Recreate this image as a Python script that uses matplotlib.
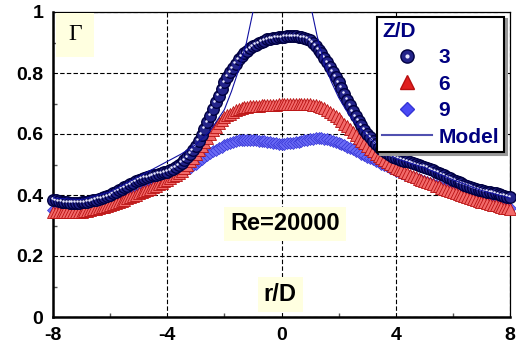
import matplotlib
matplotlib.use("Agg")
import matplotlib.pyplot as plt
import matplotlib.transforms as mtransforms
from matplotlib.legend_handler import HandlerTuple
import numpy as np

plt.rcParams['font.family'] = ['Liberation Sans', 'DejaVu Sans']
plt.rcParams['axes.unicode_minus'] = False

# r/D positions of the measured points (step 0.1)
r = np.round(np.arange(-80, 81) / 10.0, 1)

# Z/D = 3
g3 = [0.384, 0.382, 0.380, 0.378, 0.377, 0.376, 0.375, 0.375, 0.375, 0.375, 0.376,
      0.377, 0.378, 0.380, 0.382, 0.384, 0.387, 0.390, 0.393, 0.396, 0.400,
      0.405, 0.410, 0.415, 0.420, 0.425, 0.430, 0.435, 0.440, 0.445, 0.450,
      0.453, 0.456, 0.459, 0.462, 0.465, 0.467, 0.469, 0.471, 0.474, 0.477,
      0.481, 0.486, 0.491, 0.498, 0.505, 0.514, 0.524, 0.535, 0.547, 0.560,
      0.578, 0.597, 0.617, 0.638, 0.660, 0.682, 0.704, 0.726, 0.748, 0.770,
      0.787, 0.802, 0.816, 0.831, 0.845, 0.855, 0.864, 0.873, 0.881, 0.888,
      0.893, 0.898, 0.902, 0.906, 0.910, 0.912, 0.914, 0.916, 0.917, 0.918,
      0.919, 0.920, 0.920, 0.920, 0.920, 0.919, 0.917, 0.915, 0.912, 0.908,
      0.899, 0.889, 0.877, 0.864, 0.850, 0.835, 0.820, 0.804, 0.787, 0.770,
      0.751, 0.732, 0.713, 0.694, 0.675, 0.659, 0.643, 0.628, 0.614, 0.600,
      0.589, 0.578, 0.568, 0.559, 0.550, 0.543, 0.537, 0.531, 0.526, 0.522,
      0.519, 0.516, 0.513, 0.510, 0.507, 0.504, 0.501, 0.498, 0.495, 0.492,
      0.489, 0.485, 0.481, 0.477, 0.473, 0.468, 0.464, 0.459, 0.455, 0.450,
      0.446, 0.442, 0.438, 0.434, 0.430, 0.427, 0.424, 0.421, 0.418, 0.415,
      0.413, 0.411, 0.409, 0.407, 0.405, 0.403, 0.400, 0.398, 0.395, 0.392]

# Z/D = 6
g6 = [0.345, 0.344, 0.344, 0.343, 0.343, 0.343, 0.343, 0.343, 0.344, 0.344, 0.345,
      0.347, 0.349, 0.351, 0.353, 0.355, 0.357, 0.360, 0.362, 0.365, 0.367,
      0.371, 0.374, 0.378, 0.381, 0.385, 0.389, 0.393, 0.397, 0.401, 0.405,
      0.409, 0.413, 0.417, 0.421, 0.425, 0.430, 0.435, 0.440, 0.445, 0.450,
      0.455, 0.461, 0.467, 0.473, 0.480, 0.489, 0.499, 0.510, 0.522, 0.535,
      0.549, 0.562, 0.575, 0.588, 0.600, 0.612, 0.624, 0.635, 0.645, 0.655,
      0.661, 0.667, 0.673, 0.678, 0.683, 0.685, 0.687, 0.689, 0.691, 0.692,
      0.693, 0.693, 0.694, 0.694, 0.695, 0.695, 0.696, 0.696, 0.697, 0.697,
      0.698, 0.698, 0.699, 0.699, 0.700, 0.700, 0.700, 0.699, 0.699, 0.698,
      0.696, 0.694, 0.691, 0.688, 0.685, 0.679, 0.673, 0.666, 0.659, 0.652,
      0.643, 0.634, 0.625, 0.616, 0.607, 0.597, 0.588, 0.578, 0.569, 0.560,
      0.552, 0.544, 0.536, 0.528, 0.520, 0.514, 0.508, 0.502, 0.496, 0.490,
      0.485, 0.481, 0.476, 0.472, 0.467, 0.463, 0.458, 0.454, 0.449, 0.445,
      0.442, 0.438, 0.435, 0.431, 0.428, 0.424, 0.421, 0.417, 0.414, 0.410,
      0.407, 0.403, 0.400, 0.396, 0.393, 0.390, 0.387, 0.384, 0.381, 0.378,
      0.376, 0.373, 0.371, 0.368, 0.366, 0.364, 0.362, 0.359, 0.357, 0.355]

# Z/D = 9
g9 = [0.350, 0.349, 0.348, 0.347, 0.347, 0.346, 0.346, 0.346, 0.347, 0.347, 0.348,
      0.350, 0.352, 0.354, 0.356, 0.358, 0.360, 0.363, 0.365, 0.368, 0.370,
      0.374, 0.377, 0.381, 0.384, 0.388, 0.392, 0.396, 0.400, 0.404, 0.408,
      0.412, 0.416, 0.420, 0.424, 0.428, 0.433, 0.437, 0.442, 0.447, 0.452,
      0.456, 0.460, 0.464, 0.468, 0.472, 0.478, 0.484, 0.490, 0.497, 0.503,
      0.510, 0.517, 0.524, 0.531, 0.537, 0.543, 0.549, 0.554, 0.559, 0.564,
      0.567, 0.570, 0.574, 0.577, 0.580, 0.580, 0.581, 0.581, 0.580, 0.580,
      0.579, 0.578, 0.577, 0.576, 0.575, 0.573, 0.572, 0.570, 0.568, 0.567,
      0.568, 0.569, 0.570, 0.572, 0.573, 0.575, 0.577, 0.579, 0.581, 0.583,
      0.585, 0.587, 0.587, 0.586, 0.585, 0.583, 0.580, 0.578, 0.575, 0.572,
      0.568, 0.564, 0.559, 0.555, 0.550, 0.545, 0.540, 0.536, 0.531, 0.526,
      0.521, 0.517, 0.512, 0.508, 0.503, 0.498, 0.494, 0.489, 0.485, 0.480,
      0.476, 0.473, 0.469, 0.466, 0.462, 0.459, 0.456, 0.453, 0.450, 0.447,
      0.444, 0.440, 0.437, 0.433, 0.430, 0.426, 0.423, 0.419, 0.416, 0.412,
      0.409, 0.405, 0.402, 0.398, 0.395, 0.392, 0.389, 0.386, 0.383, 0.380,
      0.378, 0.375, 0.373, 0.370, 0.368, 0.366, 0.364, 0.361, 0.359, 0.357]

# model curve
r_model = [-8, -7, -6, -5, -4.5, -4, -3.5, -3, -2.5, -2, -1.75, -1.5, -1.25, -1,
           -0.75, -0.5, -0.25, 0, 0.25, 0.5, 0.75, 1, 1.25, 1.5, 1.75, 2, 2.25,
           2.5, 3, 3.5, 4, 5, 6, 7, 8]
g_model = [0.39, 0.385, 0.41, 0.46, 0.485, 0.51, 0.535, 0.565, 0.61, 0.68, 0.74,
           0.81, 0.89, 1.0, 1.12, 1.28, 1.42, 1.5, 1.45, 1.33, 1.17, 1.03, 0.92,
           0.83, 0.77, 0.72, 0.68, 0.645, 0.595, 0.55, 0.52, 0.49, 0.45, 0.415, 0.39]

navy = '#000080'

fig = plt.figure(figsize=(5.16, 3.43), dpi=100)
ax = fig.add_axes([53/516, 26/343, 457/516, 305/343])

ax.plot(r, g9, linestyle='none', marker='D', ms=6.5, mfc='#6a6af5', mec='#3535d5',
        mew=0.5, clip_on=False, zorder=3)
ax.plot(r, g6, linestyle='none', marker='^', ms=8.5, mfc='#f26a6a', mec='#b81010',
        mew=0.6, clip_on=False, zorder=4)
ax.plot(r, g3, linestyle='none', marker='o', ms=8.3, mfc='#24248a', mec='#000040',
        mew=1.0, clip_on=False, zorder=5)
hl = mtransforms.offset_copy(ax.transData, fig=fig, x=-1.5, y=1.5, units='dots')
ax.plot(r, g3, linestyle='none', marker='o', ms=1.8, mfc='#e8e8ff', mec='none',
        transform=hl, clip_on=False, zorder=6)
ax.plot(r_model, g_model, color='#1010a0', lw=0.8, zorder=7)

ax.set_xlim(-8, 8)
ax.set_ylim(0, 1)
ax.set_xticks([-8, -4, 0, 4, 8])
ax.set_xticks([-6, -2, 2, 6], minor=True)
ax.set_yticks([0, 0.2, 0.4, 0.6, 0.8, 1])
ax.set_yticks([0.1, 0.3, 0.5, 0.7, 0.9], minor=True)
ax.set_yticklabels(['0', '0.2', '0.4', '0.6', '0.8', '1'])
ax.tick_params(which='both', direction='in', labelsize=14, pad=7)
ax.tick_params(which='major', length=0)
ax.tick_params(which='minor', length=3, color='#555555', width=1)
for lab in ax.get_xticklabels() + ax.get_yticklabels():
    lab.set_fontweight('bold')
ax.grid(True, which='major', color='black', linestyle=(0, (4, 2)), lw=0.8)
for s in ['left', 'bottom']:
    ax.spines[s].set_linewidth(1.8)
for s in ['top', 'right']:
    ax.spines[s].set_linewidth(0.9)

box = dict(boxstyle='square,pad=0.25', facecolor='#ffffe0', edgecolor='none')
ax.text(0.048, 0.925, 'Γ', transform=ax.transAxes, ha='center', va='center',
        fontsize=17, family='Liberation Serif', bbox=dict(boxstyle='square,pad=0.5',
        facecolor='#ffffe0', edgecolor='none'))
ax.text(0.508, 0.305, 'Re=20000', transform=ax.transAxes, ha='center', va='center',
        fontsize=17, fontweight='bold', bbox=box)
ax.text(0.497, 0.075, 'r/D', transform=ax.transAxes, ha='center', va='center',
        fontsize=17, fontweight='bold', bbox=box)

# legend handles
h3 = ax.plot([], [], linestyle='none', marker='o', ms=9.5, mfc='#24248a', mec='#000040')[0]
h3b = ax.plot([], [], linestyle='none', marker='o', ms=3, mfc='#e8e8ff', mec='none')[0]
h6 = ax.plot([], [], linestyle='none', marker='^', ms=10, mfc='#e02020', mec='#b81010')[0]
h9 = ax.plot([], [], linestyle='none', marker='D', ms=7.5, mfc='#4a4af5', mec='#3535d5')[0]
hm = ax.plot([], [], color='#5050b0', lw=1.5)[0]
leg = ax.legend([(h3, h3b), h6, h9, hm], ['3', '6', '9', 'Model'],
                handler_map={tuple: HandlerTuple(ndivide=1)},
                title='Z/D', loc='upper right', bbox_to_anchor=(0.992, 0.992),
                fancybox=False, framealpha=1, edgecolor='black',
                shadow={'color': '#999999', 'alpha': 1},
                prop={'weight': 'bold', 'size': 15}, handlelength=2.4,
                handletextpad=0.3, labelspacing=0.36, borderpad=0.25,
                borderaxespad=0.1)
leg.get_frame().set_linewidth(1.5)
leg.set_zorder(10)
leg.get_title().set_fontsize(15)
leg.get_title().set_fontweight('bold')
leg.get_title().set_color(navy)
leg._legend_box.align = 'left'
for t in leg.get_texts():
    t.set_color(navy)

fig.savefig('out.png', dpi=100)
